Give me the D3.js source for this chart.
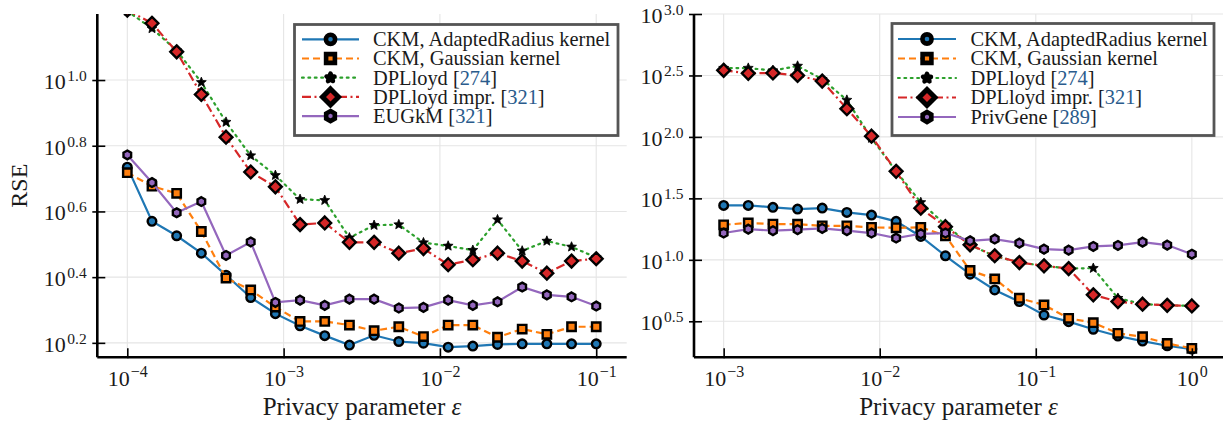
<!DOCTYPE html>
<html>
<head>
<meta charset="utf-8">
<script src="https://cdn.jsdelivr.net/npm/d3@7"></script>
<style>
  body { margin: 0; background: #fff; }
  svg { display: block; font-family: "Liberation Serif", "DejaVu Serif", serif; }
</style>
</head>
<body>
<svg id="chart" width="1224" height="426"></svg>
<script>
// ---------------- DATA ----------------
// Privacy parameter epsilon (x values)
const epsLeft = [1.000e-4, 1.438e-4, 2.069e-4, 2.976e-4, 4.281e-4, 6.158e-4, 8.859e-4, 1.274e-3, 1.833e-3, 2.637e-3,
                 3.793e-3, 5.456e-3, 7.848e-3, 1.129e-2, 1.624e-2, 2.336e-2, 3.360e-2, 4.833e-2, 6.952e-2, 1.000e-1];
const epsRight = [1.000e-3, 1.438e-3, 2.069e-3, 2.976e-3, 4.281e-3, 6.158e-3, 8.859e-3, 1.274e-2, 1.833e-2, 2.637e-2,
                  3.793e-2, 5.456e-2, 7.848e-2, 1.129e-1, 1.624e-1, 2.336e-1, 3.360e-1, 4.833e-1, 6.952e-1, 1.000];

// Left panel RSE values
const leftCKMAdapted = [5.43, 3.715, 3.357, 2.972, 2.547, 2.178, 1.945, 1.786, 1.667, 1.560,
                        1.671, 1.600, 1.581, 1.538, 1.549, 1.567, 1.574, 1.574, 1.574, 1.574];
const leftCKMGaussian = [5.224, 4.753, 4.519, 3.459, 2.495, 2.296, 2.037, 1.841, 1.841, 1.795,
                         1.726, 1.774, 1.656, 1.795, 1.795, 1.648, 1.746, 1.683, 1.774, 1.774];
const leftDPLloyd = [16.22, 14.35, 12.30, 9.84, 7.447, 5.888, 5.129, 4.335, 4.305, 3.311,
                     3.614, 3.631, 3.199, 3.126, 3.034, 3.758, 3.020, 3.236, 3.105, 2.884];
const leftDPLloydImpr = [16.33, 14.89, 12.19, 9.036, 6.699, 5.248, 4.732, 3.631, 3.673, 3.206,
                         3.206, 2.972, 3.069, 2.742, 2.838, 2.972, 2.812, 2.582, 2.812, 2.858];
const leftEUGkM = [5.916, 4.875, 3.945, 4.266, 2.924, 3.214, 2.104, 2.138, 2.061, 2.153,
                   2.153, 2.023, 2.032, 2.138, 2.061, 2.113, 2.344, 2.218, 2.188, 2.051];

// Right panel RSE values
const rightCKMAdapted = [27.73, 27.73, 26.73, 25.88, 26.36, 24.32, 23.12, 20.56, 15.49, 10.79,
                         7.638, 5.689, 4.571, 3.556, 3.141, 2.723, 2.399, 2.183, 2.000, 1.879];
const rightCKMGaussian = [19.28, 19.95, 19.54, 19.50, 18.92, 18.92, 18.37, 18.20, 18.37, 15.70,
                          8.185, 6.998, 4.875, 4.295, 3.342, 3.083, 2.523, 2.366, 2.089, 1.905];
const rightDPLloyd = [363.1, 363.1, 346.7, 377.6, 295.1, 199.5, 97.72, 52.48, 29.31, 19.28,
                      13.18, 10.72, 9.550, 8.913, 8.511, 8.551, 4.875, 4.365, 4.266, 4.217];
const rightDPLloydImpr = [348.3, 328.9, 331.1, 316.2, 284.4, 169.4, 101.4, 52.48, 26.30, 18.62,
                          13.24, 10.79, 9.506, 8.933, 8.492, 5.188, 4.571, 4.355, 4.266, 4.217];
const rightPrivGene = [16.52, 17.78, 17.26, 17.58, 18.03, 17.26, 16.52, 15.03, 16.29, 16.52,
                       14.29, 14.76, 13.68, 12.22, 11.99, 12.85, 13.09, 13.93, 13.18, 11.12];

// Legend texts
const leftLegendNames = ["CKM, AdaptedRadius kernel", "CKM, Gaussian kernel", "DPLloyd", "DPLloyd impr.", "EUGkM"];
const leftLegendRefs = ["", "", "274", "321", "321"];
const rightLegendNames = ["CKM, AdaptedRadius kernel", "CKM, Gaussian kernel", "DPLloyd", "DPLloyd impr.", "PrivGene"];
const rightLegendRefs = ["", "", "274", "321", "289"];

// Tick labels (exponents of 10)
const leftXTickExps = ["−4", "−3", "−2", "−1"];
const leftYTickExps = ["0.2", "0.4", "0.6", "0.8", "1.0"];
const rightXTickExps = ["−3", "−2", "−1", "0"];
const rightYTickExps = ["0.5", "1.0", "1.5", "2.0", "2.5", "3.0"];

const xLabel = "Privacy parameter ";
const yLabel = "RSE";

// ---------------- STYLE ----------------
const colors = ["#1f77b4", "#ff7f0e", "#2ca02c", "#d62728", "#9467bd"];
const dashes = [null, "7,4", "1.8,4.6", "9,3.5,2,3.5", null];
const shapes = ["circle", "square", "star", "diamond", "hexagon"];
const refColor = "#2a5b8c";

function expVal(s) { return Math.pow(10, +s.replace("−", "-")); }

function shapePath(shape, s) {
  switch (shape) {
    case "circle": return d3.symbol(d3.symbolCircle, Math.PI * s * s)();
    case "square": return `M${-s},${-s}h${2*s}v${2*s}h${-2*s}Z`;
    case "diamond": return `M0,${-s}L${s},0L0,${s}L${-s},0Z`;
    case "hexagon": {
      const p = d3.range(6).map(k => { const a = (-90 + 60*k) * Math.PI/180; return [s*Math.cos(a), s*Math.sin(a)]; });
      return "M" + p.map(q => q.join(",")).join("L") + "Z";
    }
    case "star": {
      const p = d3.range(10).map(k => { const r = k % 2 ? s*0.45 : s; const a = (-90 + 36*k) * Math.PI/180; return [r*Math.cos(a), r*Math.sin(a)]; });
      return "M" + p.map(q => q.join(",")).join("L") + "Z";
    }
  }
}

const markerStyle = {
  circle:  {s: 4.3, sw: 2.4, black: false, join: "miter"},
  square:  {s: 4.2, sw: 2.4, black: false, join: "miter"},
  star:    {s: 5.2, sw: 0.8, black: true,  join: "miter"},
  diamond: {s: 6.4, sw: 2.4, black: false, join: "miter"},
  hexagon: {s: 4.4, sw: 2.4, black: false, join: "miter"}
};
const legendMarkerStyle = {
  circle:  {s: 4.6, sw: 4.6, black: false, join: "miter"},
  square:  {s: 4.4, sw: 4.6, black: false, join: "miter"},
  star:    {s: 4.2, sw: 4.5, black: true,  join: "round"},
  diamond: {s: 8.0, sw: 5.0, black: false, join: "miter"},
  hexagon: {s: 5.0, sw: 4.6, black: false, join: "miter"}
};

const svg = d3.select("#chart");

function drawPanel(cfg, idx) {
  const x = d3.scaleLog().domain(cfg.xDomain).range([cfg.left, cfg.right]);
  const y = d3.scaleLog().domain(cfg.yDomain).range([cfg.bottom, cfg.top]);
  const g = svg.append("g");
  const xTickVals = cfg.xTicks.map(expVal);
  const yTickVals = cfg.yTicks.map(expVal);

  // grid
  g.append("g").selectAll("line").data(xTickVals).join("line")
    .attr("x1", d => x(d)).attr("x2", d => x(d)).attr("y1", cfg.top).attr("y2", cfg.bottom)
    .attr("stroke", "#e5e5e5").attr("stroke-width", 1.1);
  g.append("g").selectAll("line").data(yTickVals).join("line")
    .attr("y1", d => y(d)).attr("y2", d => y(d)).attr("x1", cfg.left).attr("x2", cfg.right)
    .attr("stroke", "#e5e5e5").attr("stroke-width", 1.1);

  // clip
  const clipId = "clip" + idx;
  svg.append("clipPath").attr("id", clipId).append("rect")
    .attr("x", cfg.left).attr("y", cfg.top).attr("width", cfg.right - cfg.left).attr("height", cfg.bottom - cfg.top);

  const plot = g.append("g").attr("clip-path", `url(#${clipId})`);
  const line = d3.line().x(d => x(d[0])).y(d => y(d[1]));

  cfg.series.forEach((vals, i) => {
    const pts = cfg.eps.map((e, j) => [e, vals[j]]);
    const sg = plot.append("g");
    sg.append("path").datum(pts).attr("d", line)
      .attr("fill", "none").attr("stroke", colors[i]).attr("stroke-width", 2.2)
      .attr("stroke-dasharray", dashes[i]).attr("stroke-linecap", i === 2 ? "round" : "butt");
    const ms = markerStyle[shapes[i]];
    sg.selectAll("path.m").data(pts).join("path").attr("class", "m")
      .attr("transform", d => `translate(${x(d[0])},${y(d[1])})`)
      .attr("d", shapePath(shapes[i], ms.s))
      .attr("fill", ms.black ? "#000" : colors[i])
      .attr("stroke", "#000").attr("stroke-width", ms.sw).attr("stroke-linejoin", ms.join);
  });

  // x axis
  const xa = g.append("g").attr("transform", `translate(0,${cfg.bottom})`)
    .call(d3.axisBottom(x).tickValues(xTickVals).tickSizeOuter(0).tickSize(9));
  xa.attr("font-family", null).attr("font-size", null);
  xa.select(".domain").attr("stroke", "#000").attr("stroke-width", 2.6).attr("d", `M${cfg.left},0H${cfg.right}`);
  xa.selectAll(".tick line").attr("y1", 1).attr("y2", -9).attr("stroke", "#000").attr("stroke-width", 1.6);
  xa.selectAll(".tick text").each(function(d, i) {
    const t = d3.select(this);
    t.text(null).attr("y", 28.7).attr("dy", null).attr("text-anchor", "middle")
      .attr("fill", "#1a1a1a").style("font-family", "'Liberation Serif', serif").style("font-size", "22px");
    t.append("tspan").text("10");
    t.append("tspan").style("font-size", "16px").attr("dy", -9).attr("dx", 1).text(cfg.xTicks[i]);
  });

  // y axis
  const ya = g.append("g").attr("transform", `translate(${cfg.left},0)`)
    .call(d3.axisLeft(y).tickValues(yTickVals).tickSizeOuter(0).tickSize(5));
  ya.attr("font-family", null).attr("font-size", null);
  ya.select(".domain").attr("stroke", "#000").attr("stroke-width", 2.6).attr("d", `M0,${cfg.top}V${cfg.bottom}`);
  ya.selectAll(".tick line").attr("x1", -5).attr("x2", 8).attr("stroke", "#000").attr("stroke-width", 1.6);
  ya.selectAll(".tick text").each(function(d, i) {
    const t = d3.select(this);
    t.text(null).attr("x", -10.6).attr("y", 8.3).attr("dy", null).attr("text-anchor", "end")
      .attr("fill", "#1a1a1a").style("font-family", "'Liberation Serif', serif").style("font-size", "22px");
    t.append("tspan").text("10");
    t.append("tspan").style("font-size", "15.5px").attr("dy", -8).attr("dx", 1.5).text(cfg.yTicks[i]);
  });

  // x label
  const xl = g.append("text").attr("x", (cfg.left + cfg.right) / 2).attr("y", 415)
    .attr("text-anchor", "middle").attr("font-size", 25).attr("fill", "#1a1a1a");
  xl.append("tspan").text(xLabel);
  xl.append("tspan").attr("font-style", "italic").text("ε");

  if (cfg.yLabel) {
    g.append("text").attr("transform", `translate(27,${(cfg.top + cfg.bottom) / 2}) rotate(-90)`)
      .attr("text-anchor", "middle").attr("font-size", 24).attr("fill", "#1a1a1a").text(cfg.yLabel);
  }

  // legend
  const L = cfg.legend;
  const lg = g.append("g");
  lg.append("rect").attr("x", L.x).attr("y", L.y).attr("width", L.w).attr("height", L.h)
    .attr("fill", "#fff").attr("stroke", "#555").attr("stroke-width", 2.8);
  cfg.names.forEach((name, i) => {
    const ry = L.row0 + i * L.dy;
    lg.append("line").attr("x1", L.lx1).attr("x2", L.lx2).attr("y1", ry).attr("y2", ry)
      .attr("stroke", colors[i]).attr("stroke-width", 2.2).attr("stroke-dasharray", dashes[i])
      .attr("stroke-linecap", i === 2 ? "round" : "butt");
    const ms = legendMarkerStyle[shapes[i]];
    lg.append("path").attr("transform", `translate(${(L.lx1 + L.lx2) / 2},${ry})`)
      .attr("d", shapePath(shapes[i], ms.s))
      .attr("fill", ms.black ? "#000" : colors[i]).attr("stroke", "#000")
      .attr("stroke-width", ms.sw).attr("stroke-linejoin", ms.join);
    const t = lg.append("text").attr("x", L.tx).attr("y", ry + 6.8).attr("font-size", 20.4).attr("fill", "#1a1a1a");
    t.append("tspan").text(name);
    if (cfg.refs[i]) {
      t.append("tspan").text(" [");
      t.append("tspan").attr("fill", refColor).text(cfg.refs[i]);
      t.append("tspan").text("]");
    }
  });
}

drawPanel({
  left: 97.3, right: 626.7, top: 14, bottom: 357.3,
  xDomain: [Math.pow(10, -4.192), Math.pow(10, -0.805)],
  yDomain: [Math.pow(10, 0.156), Math.pow(10, 1.201)],
  xTicks: leftXTickExps, yTicks: leftYTickExps,
  eps: epsLeft,
  series: [leftCKMAdapted, leftCKMGaussian, leftDPLloyd, leftDPLloydImpr, leftEUGkM],
  names: leftLegendNames, refs: leftLegendRefs,
  yLabel: yLabel,
  legend: {x: 294.5, y: 24.5, w: 323.5, h: 111, row0: 39.3, dy: 19.2, lx1: 302, lx2: 359, tx: 373}
}, 0);

drawPanel({
  left: 694, right: 1223, top: 14, bottom: 357.3,
  xDomain: [Math.pow(10, -3.19), Math.pow(10, 0.1996)],
  yDomain: [Math.pow(10, 0.207), Math.pow(10, 3.0)],
  xTicks: rightXTickExps, yTicks: rightYTickExps,
  eps: epsRight,
  series: [rightCKMAdapted, rightCKMGaussian, rightDPLloyd, rightDPLloydImpr, rightPrivGene],
  names: rightLegendNames, refs: rightLegendRefs,
  yLabel: null,
  legend: {x: 892, y: 23.5, w: 322, h: 112, row0: 39, dy: 19.5, lx1: 898, lx2: 956, tx: 970.5}
}, 1);
</script>
</body>
</html>
